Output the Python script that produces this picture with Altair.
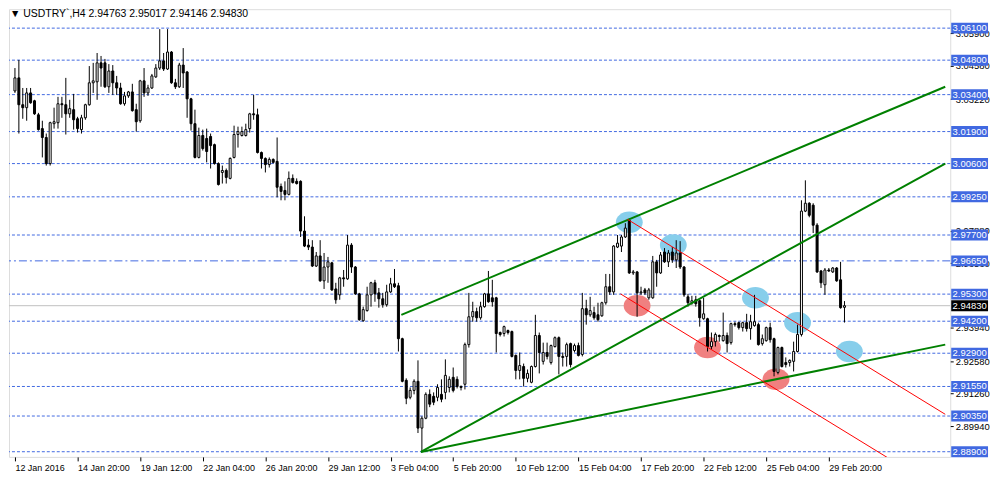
import altair as alt
import pandas as pd

# ---------------- candle data (USDTRY, H4) ----------------
opens = [3.0355, 3.0408, 3.0299, 3.0287, 3.0347, 3.0315, 3.0258, 3.0202, 3.0166, 3.0060,
         3.0222, 3.0226, 3.0303, 3.0299, 3.0262, 3.0279, 3.0242, 3.0198, 3.0246, 3.0299,
         3.0388, 3.0392, 3.0469, 3.0469, 3.0372, 3.0436, 3.0388, 3.0367, 3.0303, 3.0335,
         3.0351, 3.0279, 3.0234, 3.0396, 3.0347, 3.0367, 3.0412, 3.0448, 3.0477, 3.0444,
         3.0513, 3.0388, 3.0372, 3.0460, 3.0432, 3.0323, 3.0222, 3.0085, 3.0174, 3.0162,
         3.0170, 3.0137, 3.0060, 3.0024, 3.0032, 3.0000, 3.0085, 3.0178, 3.0174, 3.0174,
         3.0202, 3.0262, 3.0258, 3.0105, 3.0081, 3.0056, 3.0077, 3.0069, 2.9967, 2.9951,
         2.9935, 3.0000, 2.9988, 2.9988, 2.9786, 2.9729, 2.9721, 2.9644, 2.9685, 2.9584,
         2.9640, 2.9657, 2.9551, 2.9527, 2.9596, 2.9592, 2.9729, 2.9640, 2.9531, 2.9422,
         2.9463, 2.9527, 2.9576, 2.9535, 2.9511, 2.9487, 2.9539, 2.9572, 2.9564, 2.9349,
         2.9180, 2.9111, 2.9139, 2.9176, 2.8986, 2.9026, 2.9123, 2.9115, 2.9111, 2.9123,
         2.9131, 2.9151, 2.9192, 2.9184, 2.9155, 2.9164, 2.9325, 2.9438, 2.9459, 2.9434,
         2.9479, 2.9531, 2.9515, 2.9515, 2.9374, 2.9370, 2.9382, 2.9378, 2.9281, 2.9220,
         2.9236, 2.9188, 2.9172, 2.9236, 2.9362, 2.9257, 2.9293, 2.9252, 2.9317, 2.9353,
         2.9277, 2.9277, 2.9329, 2.9301, 2.9321, 2.9285, 2.9471, 2.9446, 2.9455, 2.9446,
         2.9442, 2.9495, 2.9560, 2.9539, 2.9721, 2.9725, 2.9762, 2.9830, 2.9616, 2.9620,
         2.9535, 2.9547, 2.9515, 2.9515, 2.9661, 2.9616, 2.9701, 2.9661, 2.9701, 2.9669,
         2.9697, 2.9640, 2.9519, 2.9495, 2.9507, 2.9503, 2.9430, 2.9430, 2.9317, 2.9337,
         2.9362, 2.9341, 2.9362, 2.9333, 2.9410, 2.9414, 2.9394, 2.9414, 2.9390, 2.9402,
         2.9406, 2.9329, 2.9341, 2.9394, 2.9349, 2.9212, 2.9313, 2.9252, 2.9252, 2.9257,
         2.9297, 2.9366, 2.9867, 2.9899, 2.9891, 2.9810, 2.9624, 2.9568, 2.9628, 2.9620,
         2.9636, 2.9588, 2.94763]
highs = [3.0448, 3.0481, 3.0367, 3.0367, 3.0367, 3.0319, 3.0266, 3.0234, 3.0182, 3.0230,
         3.0287, 3.0331, 3.0331, 3.0408, 3.0319, 3.0343, 3.0250, 3.0258, 3.0303, 3.0456,
         3.0469, 3.0509, 3.0497, 3.0485, 3.0464, 3.0460, 3.0416, 3.0388, 3.0351, 3.0355,
         3.0384, 3.0303, 3.0400, 3.0448, 3.0380, 3.0424, 3.0464, 3.0606, 3.0509, 3.0606,
         3.0517, 3.0404, 3.0469, 3.0529, 3.0436, 3.0327, 3.0279, 3.0206, 3.0198, 3.0202,
         3.0182, 3.0141, 3.0065, 3.0052, 3.0040, 3.0085, 3.0214, 3.0210, 3.0210, 3.0222,
         3.0266, 3.0339, 3.0283, 3.0109, 3.0085, 3.0085, 3.0081, 3.0166, 2.9979, 2.9988,
         3.0028, 3.0016, 3.0000, 2.9992, 2.9846, 2.9753, 2.9749, 2.9701, 2.9749, 2.9697,
         2.9681, 2.9661, 2.9576, 2.9600, 2.9628, 2.9770, 2.9737, 2.9644, 2.9535, 2.9479,
         2.9560, 2.9580, 2.9588, 2.9555, 2.9535, 2.9568, 2.9596, 2.9632, 2.9576, 2.9353,
         2.9188, 2.9151, 2.9184, 2.9261, 2.9034, 2.9131, 2.9143, 2.9131, 2.9164, 2.9184,
         2.9265, 2.9196, 2.9232, 2.9196, 2.9159, 2.9333, 2.9535, 2.9499, 2.9475, 2.9499,
         2.9535, 2.9624, 2.9588, 2.9519, 2.9378, 2.9402, 2.9386, 2.9382, 2.9285, 2.9293,
         2.9248, 2.9224, 2.9240, 2.9446, 2.9374, 2.9333, 2.9333, 2.9325, 2.9358, 2.9358,
         2.9293, 2.9333, 2.9333, 2.9329, 2.9333, 2.9535, 2.9507, 2.9519, 2.9479, 2.9495,
         2.9499, 2.9612, 2.9612, 2.9729, 2.9770, 2.9770, 2.9818, 2.9838, 2.9628, 2.9624,
         2.9560, 2.9555, 2.9555, 2.9685, 2.9669, 2.9701, 2.9717, 2.9709, 2.9721, 2.9749,
         2.9745, 2.9644, 2.9531, 2.9523, 2.9523, 2.9507, 2.9515, 2.9434, 2.9374, 2.9374,
         2.9366, 2.9455, 2.9374, 2.9414, 2.9418, 2.9418, 2.9418, 2.9450, 2.9446, 2.9527,
         2.9414, 2.9366, 2.9398, 2.9414, 2.9353, 2.9317, 2.9317, 2.9273, 2.9265, 2.9337,
         2.9406, 2.9911, 2.9992, 2.9903, 2.9899, 2.9818, 2.9628, 2.9636, 2.9636, 2.9640,
         2.9640, 2.9661, 2.95017]
lows = [3.0347, 3.0182, 3.0242, 3.0234, 3.0303, 3.0258, 3.0194, 3.0085, 3.0052, 3.0052,
        3.0202, 3.0202, 3.0246, 3.0178, 3.0246, 3.0198, 3.0186, 3.0182, 3.0238, 3.0295,
        3.0347, 3.0319, 3.0372, 3.0367, 3.0347, 3.0339, 3.0339, 3.0299, 3.0295, 3.0327,
        3.0271, 3.0190, 3.0226, 3.0331, 3.0335, 3.0363, 3.0408, 3.0440, 3.0436, 3.0440,
        3.0384, 3.0363, 3.0367, 3.0367, 3.0246, 3.0194, 3.0081, 3.0081, 3.0113, 3.0065,
        3.0040, 3.0056, 2.9971, 2.9979, 2.9979, 2.9996, 3.0081, 3.0125, 3.0170, 3.0170,
        3.0186, 3.0238, 3.0101, 3.0040, 3.0024, 3.0044, 3.0060, 2.9923, 2.9911, 2.9911,
        2.9931, 2.9979, 2.9975, 2.9762, 2.9721, 2.9709, 2.9640, 2.9640, 2.9580, 2.9551,
        2.9576, 2.9543, 2.9491, 2.9507, 2.9560, 2.9588, 2.9616, 2.9527, 2.9422, 2.9418,
        2.9459, 2.9479, 2.9499, 2.9475, 2.9475, 2.9479, 2.9535, 2.9555, 2.9297, 2.9172,
        2.9083, 2.9103, 2.9123, 2.8966, 2.8889, 2.9022, 2.9071, 2.9079, 2.9095, 2.9091,
        2.9103, 2.9131, 2.9131, 2.9147, 2.9139, 2.9143, 2.9313, 2.9418, 2.9418, 2.9426,
        2.9475, 2.9495, 2.9479, 2.9293, 2.9358, 2.9358, 2.9366, 2.9273, 2.9184, 2.9184,
        2.9155, 2.9172, 2.9168, 2.9232, 2.9208, 2.9244, 2.9265, 2.9244, 2.9313, 2.9204,
        2.9236, 2.9236, 2.9232, 2.9293, 2.9277, 2.9277, 2.9406, 2.9438, 2.9426, 2.9418,
        2.9438, 2.9487, 2.9527, 2.9527, 2.9717, 2.9701, 2.9758, 2.9612, 2.9608, 2.9438,
        2.9527, 2.9527, 2.9507, 2.9511, 2.9560, 2.9612, 2.9657, 2.9640, 2.9657, 2.9636,
        2.9632, 2.9519, 2.9479, 2.9487, 2.9479, 2.9398, 2.9426, 2.9297, 2.9305, 2.9317,
        2.9337, 2.9337, 2.9293, 2.9325, 2.9398, 2.9386, 2.9378, 2.9378, 2.9345, 2.9398,
        2.9321, 2.9321, 2.9337, 2.9333, 2.9196, 2.9204, 2.9232, 2.9232, 2.9236, 2.9216,
        2.9293, 2.9358, 2.9863, 2.9842, 2.9778, 2.9616, 2.9555, 2.9527, 2.9620, 2.9616,
        2.9580, 2.9471, 2.94146]
closes = [3.0408, 3.0299, 3.0287, 3.0347, 3.0307, 3.0262, 3.0198, 3.0166, 3.0060, 3.0226,
          3.0230, 3.0303, 3.0299, 3.0262, 3.0283, 3.0238, 3.0202, 3.0246, 3.0299, 3.0388,
          3.0396, 3.0469, 3.0448, 3.0372, 3.0436, 3.0388, 3.0367, 3.0303, 3.0335, 3.0351,
          3.0275, 3.0230, 3.0396, 3.0347, 3.0367, 3.0416, 3.0448, 3.0477, 3.0444, 3.0513,
          3.0388, 3.0372, 3.0460, 3.0428, 3.0323, 3.0222, 3.0085, 3.0174, 3.0121, 3.0109,
          3.0133, 3.0060, 2.9975, 3.0032, 3.0004, 3.0081, 3.0178, 3.0190, 3.0190, 3.0198,
          3.0262, 3.0258, 3.0105, 3.0081, 3.0056, 3.0077, 3.0065, 2.9964, 2.9947, 2.9935,
          3.0000, 2.9983, 2.9979, 2.9786, 2.9725, 2.9721, 2.9644, 2.9685, 2.9584, 2.9640,
          2.9661, 2.9547, 2.9507, 2.9596, 2.9592, 2.9729, 2.9640, 2.9531, 2.9426, 2.9467,
          2.9527, 2.9576, 2.9531, 2.9511, 2.9487, 2.9539, 2.9572, 2.9560, 2.9349, 2.9176,
          2.9107, 2.9139, 2.9176, 2.8986, 2.9026, 2.9123, 2.9083, 2.9091, 2.9151, 2.9103,
          2.9200, 2.9184, 2.9139, 2.9155, 2.9151, 2.9325, 2.9438, 2.9459, 2.9434, 2.9479,
          2.9531, 2.9499, 2.9499, 2.9370, 2.9366, 2.9398, 2.9374, 2.9277, 2.9220, 2.9240,
          2.9188, 2.9208, 2.9236, 2.9362, 2.9293, 2.9293, 2.9277, 2.9321, 2.9353, 2.9277,
          2.9273, 2.9325, 2.9244, 2.9321, 2.9281, 2.9471, 2.9446, 2.9463, 2.9434, 2.9426,
          2.9495, 2.9560, 2.9539, 2.9725, 2.9737, 2.9762, 2.9798, 2.9616, 2.9620, 2.9535,
          2.9539, 2.9535, 2.9547, 2.9661, 2.9616, 2.9689, 2.9661, 2.9697, 2.9669, 2.9697,
          2.9640, 2.9527, 2.9495, 2.9503, 2.9491, 2.9434, 2.9450, 2.9317, 2.9337, 2.9366,
          2.9358, 2.9362, 2.9329, 2.9410, 2.9406, 2.9394, 2.9414, 2.9390, 2.9418, 2.9418,
          2.9325, 2.9349, 2.9394, 2.9345, 2.9216, 2.9313, 2.9236, 2.9244, 2.9261, 2.9297,
          2.9366, 2.9867, 2.9899, 2.9850, 2.9810, 2.9620, 2.9576, 2.9628, 2.9624, 2.9636,
          2.9584, 2.9475, 2.94830]

# time axis labels (one every 16 bars)
time_labels = ["12 Jan 2016", "14 Jan 20:00", "19 Jan 12:00", "22 Jan 04:00",
               "26 Jan 20:00", "29 Jan 12:00", "3 Feb 04:00", "5 Feb 20:00",
               "10 Feb 12:00", "15 Feb 04:00", "17 Feb 20:00", "22 Feb 12:00",
               "25 Feb 04:00", "29 Feb 20:00"]
label_bars = [16 * k for k in range(len(time_labels))]

# horizontal levels
dash_levels = [3.0610, 3.0480, 3.0340, 3.0190, 3.0060, 2.9925, 2.9770,
               2.9530, 2.9420, 2.9290, 2.9155, 2.9035, 2.8890]
dashdot_levels = [2.9665]
bid_price = 2.94830

# price axis tick values (those not hidden behind the level boxes)
price_ticks = [3.0590, 3.0458, 3.0322, 2.9788, 2.9656,
               2.9394, 2.9258, 2.9126, 2.8994, 2.8862]

# trend lines (bar index, price)
green_bar1 = [98.75, 103.75, 103.75]
green_p1 = [2.9446, 2.8889, 2.8889]
green_bar2 = [237.75, 237.75, 237.75]
green_p2 = [3.0372, 3.0060, 2.9325]

red_bar1 = [156.5, 154.75]
red_p1 = [2.9834, 2.9531]
red_bar2 = [237.75, 224.75]
red_p2 = [2.9042, 2.8849]

# highlighted points
blue_bars = [157.0, 168.25, 189.25, 200.0, 213.25]
blue_prices = [2.9822, 2.9729, 2.9515, 2.9414, 2.9297]
red_bars = [159.0, 177.0, 194.5]
red_prices = [2.9483, 2.9313, 2.9184]

title_text = "\u25BC  USDTRY`,H4  2.94763 2.95017 2.94146 2.94830"

# ---------------- chart ----------------
FONT = "Liberation Sans"
FS = 9.5
BLUE = "#4169E1"
W, H = 946, 450

df = pd.DataFrame({"bar": list(range(len(opens))), "open": opens, "high": highs,
                   "low": lows, "close": closes})
df["dir"] = ["up" if c >= o else "down" for o, c in zip(opens, closes)]

xs = alt.Scale(domain=[-0.25, 237.75], nice=False, zero=False)
ys = alt.Scale(domain=[2.8869, 3.0687], nice=False, zero=False)

label_expr = "[" + ",".join("'" + s + "'" for s in time_labels) + "][round(datum.value/16)]"
x_axis = alt.Axis(values=label_bars, labelExpr=label_expr, labelAlign="left",
                  labelBaseline="top", labelPadding=3, tickSize=4,
                  tickColor="black", domain=False, grid=False, title=None,
                  labelFont=FONT, labelFontSize=9, labelColor="black",
                  labelFlush=False, labelOverlap=False)
y_axis = alt.Axis(orient="right", values=price_ticks, format=".5f", tickSize=3,
                  tickColor="black", labelPadding=2, domain=False, grid=False,
                  title=None, labelFont=FONT, labelFontSize=FS, labelColor="black",
                  labelFlush=False, labelOverlap=False)


def X(field):
    return alt.X(field, type="quantitative", scale=xs, axis=x_axis, title=None)


def Y(field):
    return alt.Y(field, type="quantitative", scale=ys, axis=y_axis, title=None)


grid_df = pd.DataFrame({"price": dash_levels})
dd_df = pd.DataFrame({"price": dashdot_levels})
bid_df = pd.DataFrame({"price": [bid_price]})

grid = alt.Chart(grid_df).mark_rule(color=BLUE, strokeWidth=1, strokeDash=[3, 2]).encode(
    y=Y("price"))
dashdot = alt.Chart(dd_df).mark_rule(color=BLUE, strokeWidth=1, strokeDash=[8, 3, 2, 3]).encode(
    y=Y("price"))
bid = alt.Chart(bid_df).mark_rule(color="#C0C0C0", strokeWidth=1).encode(y=Y("price"))

ellipse = "M -1 0 A 1 0.8 0 1 1 1 0 A 1 0.8 0 1 1 -1 0 Z"
blue_df = pd.DataFrame({"bar": blue_bars, "price": blue_prices})
redc_df = pd.DataFrame({"bar": red_bars, "price": red_prices})
blue_pts = alt.Chart(blue_df).mark_point(shape=ellipse, size=729, filled=True,
                                         color="#87CEEB", opacity=1).encode(
    x=X("bar"), y=Y("price"))
red_pts = alt.Chart(redc_df).mark_point(shape=ellipse, size=729, filled=True,
                                        color="#F08080", opacity=1).encode(
    x=X("bar"), y=Y("price"))

wicks = alt.Chart(df).mark_rule(color="black", strokeWidth=1, clip=True).encode(
    x=X("bar"), y=Y("low"), y2="high")
bodies = alt.Chart(df).mark_bar(size=2, stroke="black", strokeWidth=1, clip=True).encode(
    x=X("bar"), y=Y("open"), y2="close",
    color=alt.Color("dir:N", scale=alt.Scale(domain=["up", "down"], range=["white", "black"]),
                    legend=None))

green_df = pd.DataFrame({"b1": green_bar1, "p1": green_p1, "b2": green_bar2, "p2": green_p2})
red_df = pd.DataFrame({"b1": red_bar1, "p1": red_p1, "b2": red_bar2, "p2": red_p2})
green_lines = alt.Chart(green_df).mark_rule(color="#008000", strokeWidth=2, clip=True).encode(
    x=X("b1"), y=Y("p1"), x2="b2", y2="p2")
red_lines = alt.Chart(red_df).mark_rule(color="#FF0000", strokeWidth=1, clip=True).encode(
    x=X("b1"), y=Y("p1"), x2="b2", y2="p2")

box_prices = dash_levels + dashdot_levels + [bid_price]
box_colors = [BLUE] * (len(dash_levels) + len(dashdot_levels)) + ["black"]
box_df = pd.DataFrame({"price": box_prices, "fill": box_colors,
                       "label": ["%.5f" % p for p in box_prices]})
boxes = alt.Chart(box_df).mark_rule(strokeWidth=11).encode(
    x=alt.value(W + 1), x2=alt.value(W + 38), y=Y("price"),
    color=alt.Color("fill:N", scale=None))
box_text = alt.Chart(box_df).mark_text(align="center", baseline="middle", color="white",
                                       font=FONT, fontSize=FS).encode(
    x=alt.value(W + 19.5), y=Y("price"), text="label:N")

title = alt.Chart(pd.DataFrame({"t": [title_text]})).mark_text(
    align="left", baseline="middle", font=FONT, fontSize=10.5, color="black").encode(
    x=alt.value(1), y=alt.value(5), text="t:N")

chart = alt.layer(grid, dashdot, bid, blue_pts, red_pts, wicks, bodies,
                  green_lines, red_lines, boxes, box_text, title).properties(
    width=W, height=H, padding=0
).configure_view(stroke="black", strokeWidth=1).configure(background="white")

chart.save("out.html", embed_options={"renderer": "svg", "actions": False})
